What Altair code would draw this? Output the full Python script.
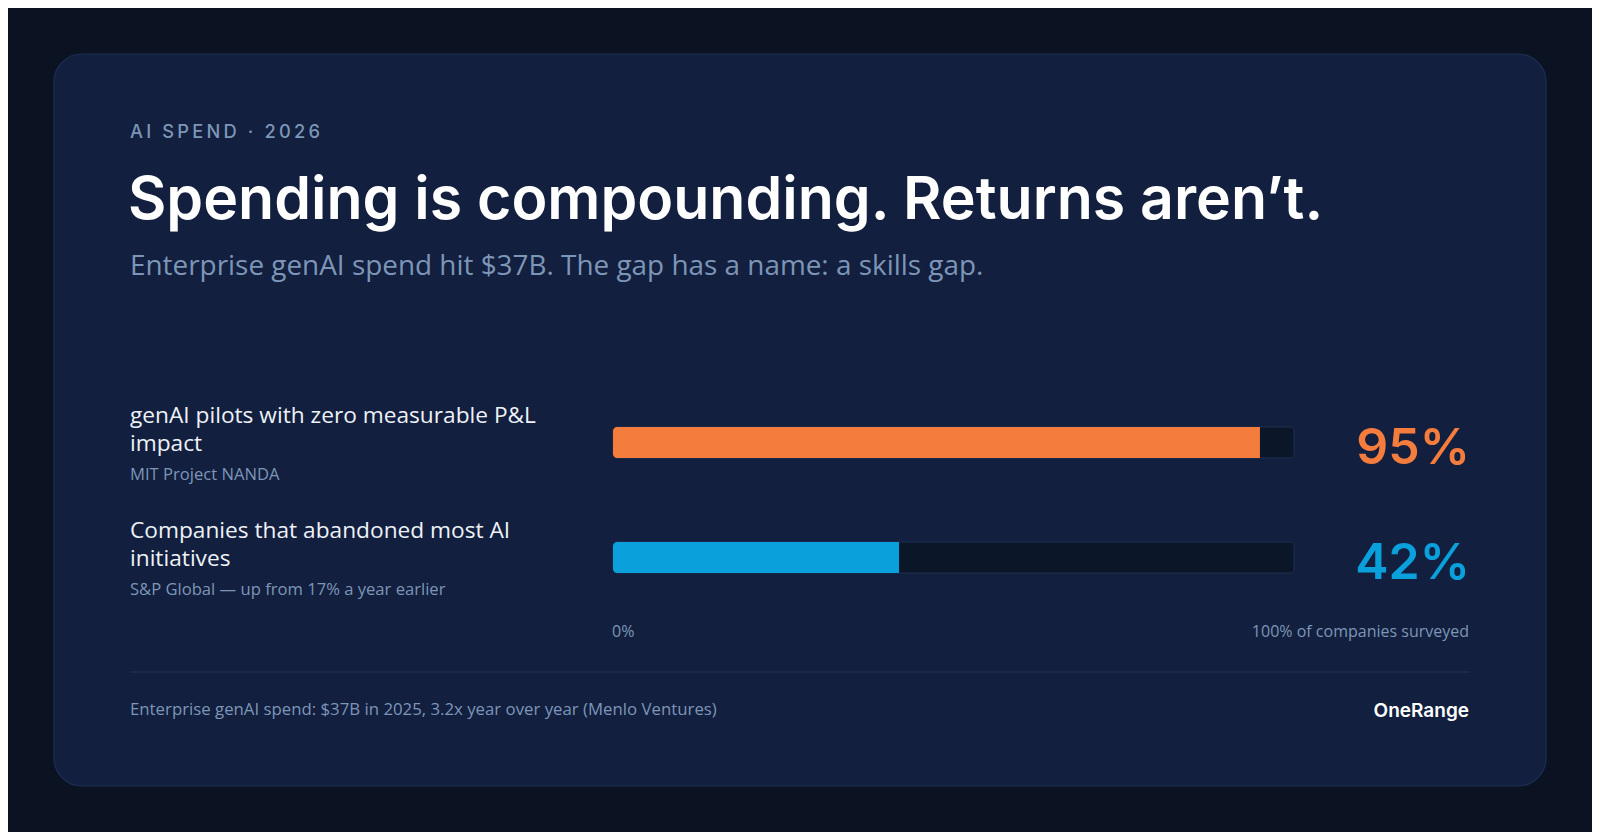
import altair as alt
import pandas as pd

# ---------------- data ----------------
kicker = "AI SPEND · 2026"
title = "Spending is compounding. Returns aren’t."
subtitle = "Enterprise genAI spend hit $37B. The gap has a name: a skills gap."
metric_keys = ["pilots", "abandoned"]
metric_lines = [
    ["genAI pilots with zero measurable P&L", "impact"],
    ["Companies that abandoned most AI", "initiatives"],
]
sources = ["MIT Project NANDA", "S&P Global — up from 17% a year earlier"]
values = [95, 42]
bar_colors = ["#f47c3c", "#0aa0dc"]
scale_min_label = "0%"
scale_max_label = "100% of companies surveyed"
footer = "Enterprise genAI spend: $37B in 2025, 3.2x year over year (Menlo Ventures)"
brand = "OneRange"

W, H = 1584, 824
BG = "#0b1322"
CARD = "#121f3e"
MUTED = "#7d96b8"
BODY = "Open Sans"

df = pd.DataFrame({
    "key": metric_keys,
    "lines": metric_lines,
    "source": sources,
    "value": values,
    "zero": [0, 0],
    "full": [100, 100],
    "label": [f"{v}%" for v in values],
    "color": bar_colors,
})

xs = alt.Scale(domain=[0, 100], range=[605, 1286])
ys = alt.Scale(type="point", domain=metric_keys, range=[434.5, 549.5], padding=0)
Y = alt.Y("key:N", scale=ys, axis=None)


def txt(s):
    return pd.DataFrame({"t": [s]})


card = alt.Chart(txt("")).mark_rect(
    fill=CARD, stroke="#1e2e52", strokeWidth=1.2, cornerRadius=28
).encode(x=alt.value(46), x2=alt.value(1538), y=alt.value(46), y2=alt.value(778))

kicker_spaced = "\u2009".join(list(kicker))
k = alt.Chart(txt(kicker_spaced)).mark_text(
    align="left", baseline="alphabetic", font="Inter", fontSize=18.3, fontWeight=500, color=MUTED
).encode(x=alt.value(122), y=alt.value(130), text="t:N")

t = alt.Chart(txt(title)).mark_text(
    align="left", baseline="alphabetic", font="Inter", fontSize=59, fontWeight=600, color="#ffffff"
).encode(x=alt.value(120), y=alt.value(211), text="t:N")

st = alt.Chart(txt(subtitle)).mark_text(
    align="left", baseline="alphabetic", font=BODY, fontSize=27.9, color=MUTED
).encode(x=alt.value(122), y=alt.value(267), text="t:N")

track = alt.Chart(df).mark_bar(
    size=31, color="#0c1629", stroke="#1f2f50", strokeWidth=1, cornerRadius=4
).encode(x=alt.X("zero:Q", scale=xs, axis=None), x2="full:Q", y=Y)

fill = alt.Chart(df).mark_bar(
    size=31, cornerRadiusTopLeft=4, cornerRadiusBottomLeft=4
).encode(
    x=alt.X("zero:Q", scale=xs, axis=None), x2="value:Q", y=Y,
    color=alt.Color("color:N", scale=None, legend=None),
)

labels = alt.Chart(df).mark_text(
    align="left", baseline="alphabetic", font=BODY, fontSize=22.7, fontWeight=500, color="#eef2f8",
    lineHeight=28.5, dy=-20
).encode(x=alt.value(122), y=Y, text="lines:N")

src = alt.Chart(df).mark_text(
    align="left", baseline="alphabetic", font=BODY, fontSize=16.6, color=MUTED, dy=37
).encode(x=alt.value(122), y=Y, text="source:N")

vals = alt.Chart(df).mark_text(
    align="right", baseline="alphabetic", font="Inter", fontSize=50, fontWeight=600, dy=21.5
).encode(
    x=alt.value(1462), y=Y, text="label:N",
    color=alt.Color("color:N", scale=None, legend=None),
)

ax0 = alt.Chart(txt(scale_min_label)).mark_text(
    align="left", baseline="alphabetic", font=BODY, fontSize=16, color=MUTED
).encode(x=alt.value(604), y=alt.value(629), text="t:N")

ax1 = alt.Chart(txt(scale_max_label)).mark_text(
    align="right", baseline="alphabetic", font=BODY, fontSize=16, color=MUTED
).encode(x=alt.value(1461), y=alt.value(629), text="t:N")

divider = alt.Chart(txt("")).mark_rule(color="#22335a", strokeWidth=1).encode(
    x=alt.value(122), x2=alt.value(1462), y=alt.value(664)
)

foot = alt.Chart(txt(footer)).mark_text(
    align="left", baseline="alphabetic", font=BODY, fontSize=16.8, color=MUTED
).encode(x=alt.value(122), y=alt.value(707), text="t:N")

br = alt.Chart(txt(brand)).mark_text(
    align="right", baseline="alphabetic", font="Inter", fontSize=19, fontWeight=600, color="#ffffff"
).encode(x=alt.value(1461), y=alt.value(709), text="t:N")

chart = alt.layer(
    card, k, t, st, track, fill, labels, src, vals, ax0, ax1, divider, foot, br
).properties(
    width=W, height=H, background=BG, padding=0,
    autosize=alt.AutoSizeParams(type="none"),
).configure_view(stroke=None)

chart.save("out.html", embed_options={"renderer": "svg", "actions": False})
